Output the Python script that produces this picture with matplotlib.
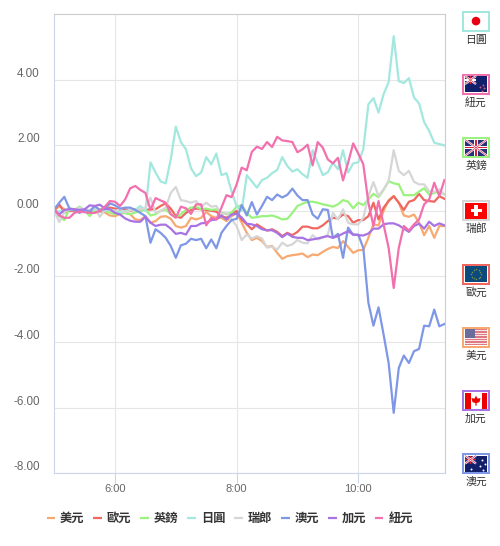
import matplotlib
matplotlib.use('Agg')
import matplotlib.pyplot as plt
from matplotlib.patches import Rectangle, Polygon, Circle
from matplotlib.transforms import ScaledTranslation
import numpy as np

# one sample every 5 minutes from 5:00
minutes = np.arange(78) * 5
hours = 5 + minutes / 60

usd = [0, .15, .05, 0, -.01, -.01, -.01, -.05, -.05, -.02, -.05, -.14, -.16, -.09, -.05, -.1, -.26, -.28, -.16, -.36,
       -.31, -.18, -.16, -.24, -.46, -.51, -.46, -.21, -.26, -.21, -.03, -.16, -.21, -.21, -.31, -.16, -.06, -.36, -.67, -.89,
       -.82, -.92, -1.1, -1.07, -1.28, -1.46, -1.38, -1.35, -1.33, -1.3, -1.41, -1.33, -1.35, -1.25, -1.16, -1.1, -1.13, -.92, -1.1, -1.28,
       -1.2, -1.19, -.82, -.41, -.44, 0, .33, .45, .25, -.14, -.18, -.11, -.36, -.74, -.46, -.82, -.46, -.46]
eur = [.03, .2, -.05, 0, 0, -.02, 0, -.02, -.02, 0, .03, .1, .07, .03, .05, 0, .05, .03, .03, .05,
       .05, .15, .23, .07, -.16, -.21, -.06, .03, .07, .05, .03, 0, -.02, -.16, -.21, -.1, 0, -.26, -.41, -.56,
       -.41, -.51, -.6, -.56, -.64, -.77, -.67, -.74, -.64, -.48, -.48, -.53, -.53, -.44, -.31, -.21, -.23, -.11, -.16, -.36,
       -.28, -.28, -.16, .25, -.26, .1, .3, .45, .25, .03, .28, .33, .52, .33, .3, .28, .45, .37]
gbp = [-.05, -.16, -.28, .07, .03, .13, .02, -.16, .03, .05, 0, -.05, -.1, -.05, -.07, -.1, -.05, 0, .05, -.14,
       -.1, 0, .05, -.1, -.19, -.1, .03, .1, .13, .05, .07, .03, .05, -.05, -.1, -.05, .13, .17, -.06, -.21,
       -.19, -.16, -.16, -.14, -.19, -.26, -.24, -.06, .15, .22, .28, .28, .25, .2, .17, .13, .2, .33, .28, .08,
       .25, .18, .35, .52, .42, .64, .91, .84, .81, .48, .48, .48, .59, .69, .5, .55, .6, .5]
jpy = [0, -.02, .02, .03, .02, 0, -.02, .02, .05, .03, .02, .03, 0, -.04, 0, .02, .03, .15, 0, 1.48,
       1.17, .9, .84, 1.57, 2.57, 2.1, 1.88, 1.3, 1.06, 1.17, 1.64, 1.42, 1.75, 1.09, 1.15, .6, .14, 0, 1.09, .9,
       .71, .94, 1.01, 1.15, 1.25, 1.64, 1.37, 1.2, 1.27, 1.12, 1.01, 1.85, 1.47, 1.09, 1.18, 1.47, 1.27, 1.85, 1.17, 1.45,
       1.48, 1.88, 3.25, 3.44, 3.0, 3.56, 3.93, 5.33, 3.96, 3.9, 4.05, 3.46, 3.28, 2.71, 2.44, 2.08, 2.04, 2.0]
chf = [0, -.34, -.05, .1, .05, .1, .05, .03, .1, -.18, .03, .05, 0, .05, -.05, .03, .03, .05, .1, .4,
       -.05, 0, .1, .55, .73, .33, .3, .25, .3, .13, .25, .13, .15, -.1, -.06, -.26, -.46, -.89, -.72, -.84,
       -.77, -.84, -1.12, -1.09, -1.18, -.97, -1.07, -1.02, -.89, -.97, -.99, -.74, -.87, -.82, -.72, -.06, -.26, .05, -.36, -.41,
       -.41, -.21, .45, .88, .45, .66, .91, 1.85, 1.22, 1.09, 1.22, .89, .81, .81, .6, .58, .66, .5]
aud = [.05, .25, .43, .07, .03, -.06, .03, -.02, .15, .03, .05, .23, .17, .07, .1, .1, .03, -.06, -.16, -.97,
       -.56, -.67, -.82, -1.07, -1.43, -1.05, -1.0, -.85, -.89, -.85, -1.14, -.87, -1.14, -.67, -.46, -.28, -.24, .18, -.14, .27,
       -.11, .15, .43, .33, .5, .41, .49, .68, .47, .33, .33, -.11, -.24, .05, .03, -.82, -.7, -1.43, -.51, -.73,
       -.72, -1.13, -2.8, -3.5, -2.94, -3.77, -4.64, -6.16, -4.79, -4.41, -4.64, -4.28, -4.21, -3.5, -3.52, -3.01, -3.52, -3.45]
cad = [.03, -.11, .03, .05, .05, .03, .05, .17, .15, .19, .07, .05, -.06, -.11, -.23, -.3, -.33, -.33, -.18, -.36,
       -.46, -.42, -.42, -.54, -.7, -.67, -.72, -.46, -.46, -.38, -.36, -.28, -.26, -.14, -.26, -.11, -.09, -.2, -.39, -.41,
       -.46, -.56, -.59, -.59, -.67, -.8, -.69, -.79, -.82, -.82, -.89, -.87, -.84, -.8, -.77, -.82, -.77, -.69, -.62, -.72,
       -.74, -.75, -.69, -.54, -.54, -.41, -.38, -.38, -.44, -.54, -.64, -.46, -.39, -.54, -.33, -.46, -.38, -.44]
nzd = [.05, -.14, -.21, -.21, -.06, -.02, -.04, -.06, -.06, 0, .13, .3, .28, .15, .35, .69, .76, .64, .55, .03,
       .39, .32, .25, -.1, -.21, .13, .08, -.09, .2, .2, -.44, -.21, -.26, .1, .48, .42, .81, 1.32, 1.24, 1.8,
       1.96, 1.89, 2.1, 1.95, 2.26, 2.15, 2.13, 2.1, 1.79, 1.88, 2.02, 1.39, 2.1, 1.93, 1.57, 1.45, 1.62, .93, 1.47, 2.06,
       1.75, 1.42, .25, -.46, .3, -.41, -1.13, -2.35, -1.13, -.46, -.6, -.41, -.26, .2, .35, .86, .45, .94]

names = ['美元', '歐元', '英鎊', '日圓', '瑞郎', '澳元', '加元', '紐元']
series = [usd, eur, gbp, jpy, chf, aud, cad, nzd]
colors = ['#f7a971', '#f0675f', '#9af27f', '#a3e8df', '#d6d6d6', '#7e97e6', '#a873e3', '#f270ae']

yticks = [4, 2, 0, -2, -4, -6, -8]
ylabels = ['4.00', '2.00', '0.00', '-2.00', '-4.00', '-6.00', '-8.00']
xticks = [6, 8, 10]
xlabels = ['6:00', '8:00', '10:00']

plt.rcParams['font.family'] = ['Liberation Sans', 'DejaVu Sans']
cjk = ['Noto Sans CJK TC', 'DejaVu Sans']

fig = plt.figure(figsize=(5, 5.46), dpi=100)
ax = fig.add_axes([54.2 / 500, 72.8 / 546, 391 / 500, 459 / 546])

for name, vals, c in zip(names, series, colors):
    ax.plot(hours, vals, color=c, linewidth=1.6, label=name, solid_joinstyle='round')

ax.set_xlim(5, 11.43)
ax.set_ylim(-8, 6)
ax.set_yticks(yticks)
ax.set_yticklabels(ylabels, color='#666666', fontsize=8.4, va='bottom')
# labels sit a little above their grid lines
shift = ScaledTranslation(0, -1 / 100, fig.dpi_scale_trans)
for lab in ax.get_yticklabels():
    lab.set_transform(lab.get_transform() + shift)
ax.set_xticks(xticks)
ax.set_xticklabels(xlabels, color='#666666', fontsize=8)
ax.tick_params(axis='y', length=0, pad=10.5)
ax.tick_params(axis='x', length=7, width=0.8, color='#ccd6eb', pad=1)
ax.grid(True, color='#e6e6e6', linewidth=0.8)
ax.set_axisbelow(True)
ax.spines['left'].set_color('#ccd6eb')
ax.spines['bottom'].set_color('#ccd6eb')
ax.spines['top'].set_color('#cccccc')
ax.spines['right'].set_color('#cccccc')

leg = fig.legend(loc='upper left', bbox_to_anchor=(46.5 / 500, 1 - 512 / 546), ncol=8, frameon=False,
                 prop={'family': cjk, 'size': 8.8, 'weight': 'bold'},
                 handlelength=0.66, handletextpad=0.42, columnspacing=0.76, borderaxespad=0, borderpad=0)
for t in leg.get_texts():
    t.set_color('#333333')
for h in leg.get_lines():
    h.set_linewidth(1.6)
    h.set_solid_capstyle('butt')

# flags on the right, drawn in pixel coordinates
ov = fig.add_axes([0, 0, 1, 1])
ov.set_xlim(0, 500)
ov.set_ylim(546, 0)
ov.axis('off')
ov.patch.set_alpha(0)


def rect(x, y, w, h, c):
    ov.add_patch(Rectangle((x, y), w, h, facecolor=c, edgecolor='none'))


def union_jack(x, y, w, h):
    rect(x, y, w, h, '#27307a')
    ov.plot([x, x + w], [y, y + h], color='white', lw=1.5, solid_capstyle='butt')
    ov.plot([x, x + w], [y + h, y], color='white', lw=1.5, solid_capstyle='butt')
    ov.plot([x, x + w], [y, y + h], color='#d8334a', lw=0.5, solid_capstyle='butt')
    ov.plot([x, x + w], [y + h, y], color='#d8334a', lw=0.5, solid_capstyle='butt')
    t = h / 16.5
    rect(x + w / 2 - 1.6 * t, y, 3.2 * t, h, 'white')
    rect(x, y + h / 2 - 1.6 * t, w, 3.2 * t, 'white')
    rect(x + w / 2 - 0.9 * t, y, 1.8 * t, h, '#d8203a')
    rect(x, y + h / 2 - 0.9 * t, w, 1.8 * t, '#d8203a')


def stars(xs, ys, c, s=1.5):
    ov.scatter(xs, ys, s=s, color=c, linewidths=0, zorder=5)


def jp(x, y, w, h):
    ov.add_patch(Circle((x + w / 2, y + h / 2), 4.3, facecolor='#e60012', edgecolor='none'))


def nz(x, y, w, h):
    rect(x, y, w, h, '#12206b')
    union_jack(x, y, w / 2, h / 2)
    stars([x + 15, x + 18, x + 19, x + 17], [y + 11, y + 9, y + 12, y + 15], '#c85a80', 2)


def ch(x, y, w, h):
    rect(x, y, w, h, '#ff0000')
    rect(x + w / 2 - 5.5, y + h / 2 - 1.8, 11, 3.6, 'white')
    rect(x + w / 2 - 1.8, y + h / 2 - 5.5, 3.6, 11, 'white')


def eu(x, y, w, h):
    rect(x, y, w, h, '#0b4a7d')
    a = np.arange(12) * np.pi / 6
    stars(x + w / 2 + 5 * np.cos(a), y + h / 2 + 5 * np.sin(a), '#7f8f4a', 1.2)


def us(x, y, w, h):
    rect(x, y, w, h, '#f6e6e8')
    for k in range(0, 7):
        rect(x, y + k * h / 6.5, w, h / 13, '#e07a82')
    rect(x, y, w * 0.45, h * 0.54, '#6a6d9a')


def ca(x, y, w, h):
    rect(x, y, w, h, 'white')
    rect(x, y, w * 0.25, h, '#ee0000')
    rect(x + w * 0.75, y, w * 0.25, h, '#ee0000')
    cx, cy = x + w / 2, y + h / 2
    ov.add_patch(Polygon([(cx, cy - 5), (cx + 1.5, cy - 2), (cx + 4.5, cy - 2.5), (cx + 3.5, cy + 1.5), (cx + .6, cy + 2.5),
                          (cx + .6, cy + 5), (cx - .6, cy + 5), (cx - .6, cy + 2.5), (cx - 3.5, cy + 1.5), (cx - 4.5, cy - 2.5),
                          (cx - 1.5, cy - 2)], facecolor='#ee0000', edgecolor='none'))


def au(x, y, w, h):
    rect(x, y, w, h, '#12206b')
    union_jack(x, y, w / 2, h / 2)
    stars([x + 6, x + 17, x + 20, x + 15, x + 18], [y + 13, y + 4, y + 8, y + 10, y + 14], 'white', 2)


flags = [('日圓', '#a3e8df', jp), ('紐元', '#f270ae', nz), ('英鎊', '#9af27f', union_jack), ('瑞郎', '#d6d6d6', ch),
         ('歐元', '#f0675f', eu), ('美元', '#f7a971', us), ('加元', '#a873e3', ca), ('澳元', '#7e97e6', au)]
tops = [10.5, 73.5, 137, 200, 263.5, 326.5, 390, 453]

for (name, c, draw), top in zip(flags, tops):
    rect(462.3, top, 27.2, 21.2, c)
    rect(464.3, top + 2, 23.2, 17.2, 'white')
    draw(465, top + 2.5, 22, 16.2)
    ov.text(476, top + 29, name, ha='center', va='center', fontsize=7.8, color='#333333', family=cjk)

fig.savefig('out.png', dpi=100)
